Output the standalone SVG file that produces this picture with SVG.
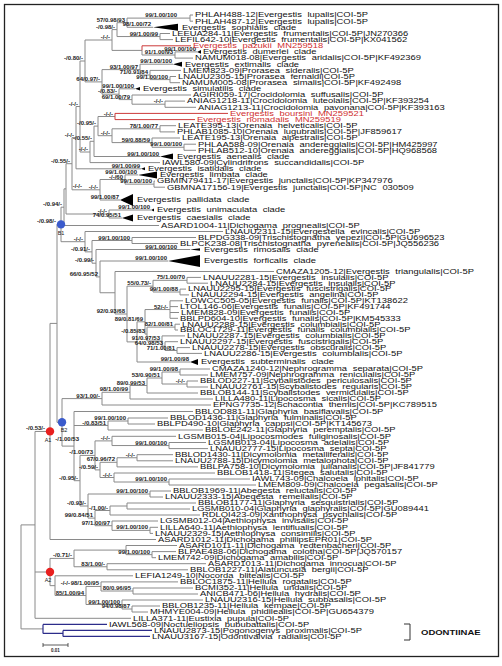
<svg xmlns="http://www.w3.org/2000/svg" width="502" height="666" viewBox="0 0 502 666">
<style>
.l{stroke:#8a8a8a;stroke-width:1;fill:none}
.rl{stroke:#cc3a3a;stroke-width:1;fill:none}
.bl{stroke:#2c2c8a;stroke-width:1.2;fill:none}
.t{font-family:"Liberation Sans",Arial,sans-serif;font-size:9.4px;fill:#111;word-spacing:3px}
.rt{fill:#d03030}
.s{font-family:"Liberation Sans",Arial,sans-serif;font-size:6px;font-weight:bold;fill:#222;text-anchor:end}
.c{font-family:"Liberation Sans",Arial,sans-serif;font-size:5.5px;fill:#222;text-anchor:middle}
.tri{fill:#000}
</style>
<rect x="4.5" y="4.5" width="494" height="652" fill="#fff" stroke="#222" stroke-width="1.3"/>
<g id="connectors">
<path class="l" d="M190,15V21.2M190,15H193M190,21.2H193
M127,18.1V27.3M127,18.1H190M127,27.3H153
M160,33.5V39.6M160,33.5H170M160,39.6H173
M117,22.7V36.55M117,22.7H127M117,36.55H160
M175,51.9V58.1M175,51.9H197M175,58.1H193
M142,50.4V55M142,55H175
M112,29.6V50.4M112,29.6H117M112,50.4H142
M170,76.5V82.7M170,76.5H176M170,82.7H180
M150,70.4V79.6M150,70.4H181M150,79.6H170
M140,64.2V75M140,64.2H173M140,75H150
M165,101.1V107.3M165,101.1H185M165,107.3H196
M132,95V104.2M132,95H191M132,104.2H165
M119,88.8V99.6M119,88.8H135M119,99.6H132
M102,69.6V94.2M102,69.6H140M102,94.2H119
M85,40V81.9M85,40H112M85,81.9H102
M160,125.7V131.9M160,125.7H176M160,131.9H175
M184,144.2V150.3M184,144.2H196M184,150.3H196
M152,138V147.25M152,138H180M152,147.25H184
M112,128.8V142.6M112,128.8H160M112,142.6H152
M98,116.5V135.7M98,116.5H115M98,135.7H112
M94,126.1V156.5M94,126.1H98M94,156.5H160
M90,141.3V162.6M90,141.3H94M90,162.6H160
M80,61V152M80,61H85M80,152H90
M76,106.5V168.8M76,106.5H80M76,168.8H141
M154,181.1V187.2M154,181.1H155M154,187.2H165
M125,174.9V184.15M125,174.9H138M125,184.15H154
M100,179.5V200M100,179.5H125M100,200H120
M109,210V218M109,210H151M109,218H122
M72,137.65V189.8M72,137.65H76M72,189.8H100
M66,163.7V214M66,163.7H72M66,214H109
M64,188.85V225.5M64,188.85H66M64,225.5H159
M132,237.5V243.5M132,237.5H196M132,243.5H178
M92,240.5V263.2M92,240.5H132M92,263.2H96
M85,231.5V251.85M85,231.5H223M85,251.85H92
M61,207.2V241.7M61,207.2H64M61,241.7H85
M187,277.4V283.2M187,277.4H201M187,283.2H208
M180,289.1V294.9M180,289.1H186M180,294.9H189
M153,280.3V292M153,280.3H187M153,292H180
M170,300.8V318.3M170,300.8H183M170,306.6H178M170,312.5H179M170,318.3H178
M175,324.2V330M175,324.2H180M175,330H178
M177,347.6V353.4M177,347.6H190M177,353.4H202
M165,341.7V350.5M165,341.7H178M165,350.5H177
M162,335.9V346.1M162,335.9H185M162,346.1H165
M147,327.1V341M147,327.1H175M147,341H162
M145,309.55V334.05M145,309.55H170M145,334.05H147
M137,321.8V362M137,321.8H145M137,362H190
M127,286.15V341.9M127,286.15H153M127,341.9H137
M115,271.5V314M115,271.5H274M115,314H127
M100,261V292.75M100,261H168M100,292.75H115
M96,249.5V276.9M96,249.5H190M96,276.9H100
M180,369V375M180,369H210M180,375H208
M187,381V387M187,381H198M187,387H208
M162,372V384M162,372H180M162,384H187
M147,378V393M147,378H162M147,393H198
M130,385.5V399M130,385.5H147M130,399H213
M102,392.25V405M102,392.25H130M102,405H211
M128,418V424M128,418H168M128,424H155
M108,421V430M108,421H128M108,430H203
M169,442.5V448.6M169,442.5H206M169,448.6H208
M112,436.3V445.55M112,436.3H176M112,445.55H169
M137,454.7V460.8M137,454.7H173M137,460.8H173
M117,457.75V466.9M117,457.75H137M117,466.9H198
M169,479V485M169,479H250M169,485H256
M114,473V482M114,473H215M114,482H169
M100,462.3V477.5M100,462.3H117M100,477.5H114
M95,440.9V469.9M95,440.9H112M95,469.9H100
M150,491V497M150,491H171M150,497H163
M127,503V509M127,503H196M127,509H190
M110,506V515M110,506H127M110,515H200
M150,527.3V533.4M150,527.3H158M150,533.4H153
M112,521V530.35M112,521H158M112,530.35H150
M95,510.5V525.7M95,510.5H110M95,525.7H112
M88,494V518.1M88,494H150M88,518.1H95
M80,455.4V506M80,455.4H95M80,506H88
M74,411.5V480.7M74,411.5H193M74,425.5H108M74,480.7H80
M62,398.6V446.1M62,398.6H102M62,446.1H74
M57,224.45V422.35M57,224.45H61M57,422.35H62
M50,323.4V539.5M50,323.4H57M50,539.5H156
M152,551.6V557.7M152,551.6H176M152,557.7H156
M126,545.5V554.65M126,545.5H177M126,554.65H152
M107,563.7V569.8M107,563.7H206M107,569.8H188
M74,550.08V566.75M74,550.08H126M74,566.75H107
M133,588V594M133,588H193M133,594H198
M101,581.9V591M101,581.9H178M101,591H133
M132,606V612M132,606H160M132,612H148
M122,600V609M122,600H203M122,609H132
M86,586.45V604.5M86,586.45H101M86,604.5H122
M55,575.8V595.5M55,575.8H133M55,595.5H86
M50,558.4V585.65M50,558.4H74M50,585.65H55
M35,431.45V618.3M35,431.45H50M35,572H50M35,618.3H131
M21,524.9V628.9M21,524.9H35M21,628.9H43"/>
<path class="rl" d="M142,45.8V50.4M142,45.8H191M115,113.4V119.6M115,113.4H228M115,119.6H195"/>
<path class="bl" d="M43,624.4V633.4M43,624.4H107M43,633.4H63M63,630.4V636.4M63,630.4H152M63,636.4H150"/>
</g>
<g id="support-labels">
<text class="s" transform="translate(177,17.1) scale(1,0.8)">99/1.00/100</text>
<text class="s" transform="translate(125,21.7) scale(1,0.8)">57/0.98/93</text>
<text class="s" transform="translate(151,26.3) scale(1,0.8)">98/1.00/72</text>
<text class="s" transform="translate(158,35.5) scale(1,0.8)">99/1.00/99</text>
<text class="s" transform="translate(115,28.6) scale(1,0.8)">-/0.98/-</text>
<text class="s" transform="translate(110,39) scale(1,0.8)">-/-/-</text>
<text class="s" transform="translate(173,54.2) scale(1,0.8)">91/1.00/93</text>
<text class="s" transform="translate(196,50.6) scale(1,0.8)">99/1.00/100</text>
<text class="s" transform="translate(83,60) scale(1,0.8)">-/0.80/-</text>
<text class="s" transform="translate(138,68.6) scale(1,0.8)">93/1.00/97</text>
<text class="s" transform="translate(172,63.2) scale(1,0.8)">99/1.00/100</text>
<text class="s" transform="translate(148,74) scale(1,0.8)">71/0.91/84</text>
<text class="s" transform="translate(168,78.6) scale(1,0.8)">99/1.00/100</text>
<text class="s" transform="translate(117,93.2) scale(1,0.8)">-/0.83/-</text>
<text class="s" transform="translate(134,87.8) scale(1,0.8)">99/1.00/100</text>
<text class="s" transform="translate(130,98.6) scale(1,0.8)">69/1.00/79</text>
<text class="s" transform="translate(100,80.9) scale(1,0.8)">64/0.97/-</text>
<text class="s" transform="translate(163,103.2) scale(1,0.8)">-/-/-</text>
<text class="s" transform="translate(113,115.5) scale(1,0.8)">-/-/-</text>
<text class="s" transform="translate(158,127.8) scale(1,0.8)">78/1.00/77</text>
<text class="s" transform="translate(182,146.2) scale(1,0.8)">99/1.00/100</text>
<text class="s" transform="translate(150,141.6) scale(1,0.8)">59/0.88/59</text>
<text class="s" transform="translate(110,134.7) scale(1,0.8)">-/-/-</text>
<text class="s" transform="translate(96,125.1) scale(1,0.8)">-/0.95/-</text>
<text class="s" transform="translate(92,140.3) scale(1,0.8)">-/0.55/-</text>
<text class="s" transform="translate(159,155.5) scale(1,0.8)">99/1.00/100</text>
<text class="s" transform="translate(88,151) scale(1,0.8)">-/-/-</text>
<text class="s" transform="translate(78,105.5) scale(1,0.8)">-/-/-</text>
<text class="s" transform="translate(74,136.6) scale(1,0.8)">-/-/-</text>
<text class="s" transform="translate(70,162.7) scale(1,0.8)">-/0.55/-</text>
<text class="s" transform="translate(140,167.8) scale(1,0.8)">99/1.00/99</text>
<text class="s" transform="translate(137,173.9) scale(1,0.8)">99/1.00/100</text>
<text class="s" transform="translate(152,183.1) scale(1,0.8)">99/1.00/100</text>
<text class="s" transform="translate(123,178.5) scale(1,0.8)">-/-/60</text>
<text class="s" transform="translate(98,188.8) scale(1,0.8)">-/-/-</text>
<text class="s" transform="translate(119,199) scale(1,0.8)">99/1.00/87</text>
<text class="s" transform="translate(150,209) scale(1,0.8)">99/1.00/100</text>
<text class="s" transform="translate(121,217) scale(1,0.8)">74/0.95/51</text>
<text class="s" transform="translate(107,213) scale(1,0.8)">-/-/-</text>
<text class="s" transform="translate(82,187.8) scale(1,0.8)">-/-/-</text>
<text class="s" transform="translate(62,206.2) scale(1,0.8)">-/0.94/-</text>
<text class="s" transform="translate(56,223.4) scale(1,0.8)">-/0.98/-</text>
<text class="s" transform="translate(130,239.5) scale(1,0.8)">99/1.00/100</text>
<text class="s" transform="translate(83,240.7) scale(1,0.8)">-/-/-</text>
<text class="s" transform="translate(177,248.6) scale(1,0.8)">99/1.00/100</text>
<text class="s" transform="translate(167,260) scale(1,0.8)">99/1.00/100</text>
<text class="s" transform="translate(90,250.8) scale(1,0.8)">-/0.91/-</text>
<text class="s" transform="translate(94,262.2) scale(1,0.8)">-/0.99/-</text>
<text class="s" transform="translate(98,275.9) scale(1,0.8)">66/0.95/52</text>
<text class="s" transform="translate(185,279.3) scale(1,0.8)">75/1.00/70</text>
<text class="s" transform="translate(178,291) scale(1,0.8)">99/1.00/88</text>
<text class="s" transform="translate(151,285.1) scale(1,0.8)">55/0.73/-</text>
<text class="s" transform="translate(125,313) scale(1,0.8)">92/0.93/68</text>
<text class="s" transform="translate(168,308.5) scale(1,0.8)">52/-/-</text>
<text class="s" transform="translate(143,320.8) scale(1,0.8)">89/0.81/69</text>
<text class="s" transform="translate(173,326.1) scale(1,0.8)">82/1.00/81</text>
<text class="s" transform="translate(145,333) scale(1,0.8)">-/0.85/83</text>
<text class="s" transform="translate(160,340) scale(1,0.8)">91/0.97/53</text>
<text class="s" transform="translate(175,349.5) scale(1,0.8)">71/1.00/81</text>
<text class="s" transform="translate(163,345.1) scale(1,0.8)">64/0.98/53</text>
<text class="s" transform="translate(189,361) scale(1,0.8)">99/1.00/98</text>
<text class="s" transform="translate(178,371) scale(1,0.8)">99/1.00/98</text>
<text class="s" transform="translate(185,383) scale(1,0.8)">-/-/-</text>
<text class="s" transform="translate(160,377) scale(1,0.8)">53/0.90/51</text>
<text class="s" transform="translate(145,384.5) scale(1,0.8)">89/0.99/53</text>
<text class="s" transform="translate(128,391.2) scale(1,0.8)">98/1.00/99</text>
<text class="s" transform="translate(100,397.6) scale(1,0.8)">93/1.00/-</text>
<text class="s" transform="translate(126,420) scale(1,0.8)">99/1.00/100</text>
<text class="s" transform="translate(106,424.5) scale(1,0.8)">-/0.83/51</text>
<text class="s" transform="translate(167,444.5) scale(1,0.8)">99/1.00/100</text>
<text class="s" transform="translate(110,439.9) scale(1,0.8)">-/-/-</text>
<text class="s" transform="translate(135,456.7) scale(1,0.8)">-/-/-</text>
<text class="s" transform="translate(115,461.3) scale(1,0.8)">67/0.96/72</text>
<text class="s" transform="translate(98,468.9) scale(1,0.8)">-/0.59/-</text>
<text class="s" transform="translate(112,476.5) scale(1,0.8)">-/-/-</text>
<text class="s" transform="translate(167,481) scale(1,0.8)">99/1.00/100</text>
<text class="s" transform="translate(93,454.4) scale(1,0.8)">-/1.00/73</text>
<text class="s" transform="translate(148,493) scale(1,0.8)">99/1.00/100</text>
<text class="s" transform="translate(108,509.5) scale(1,0.8)">-/1.00/-</text>
<text class="s" transform="translate(93,517.1) scale(1,0.8)">99/0.84/51</text>
<text class="s" transform="translate(86,505) scale(1,0.8)">-/0.93/-</text>
<text class="s" transform="translate(110,524.7) scale(1,0.8)">97/1.00/97</text>
<text class="s" transform="translate(148,529.3) scale(1,0.8)">99/1.00/100</text>
<text class="s" transform="translate(78,479.7) scale(1,0.8)">-/0.95/-</text>
<text class="s" transform="translate(79,441.3) scale(1,0.8)">-/1.00/53</text>
<text class="s" transform="translate(45,430.4) scale(1,0.8)">-/0.53/-</text>
<text class="s" transform="translate(150,553.6) scale(1,0.8)">99/1.00/100</text>
<text class="s" transform="translate(72,557.4) scale(1,0.8)">-/0.71/-</text>
<text class="s" transform="translate(105,565.7) scale(1,0.8)">83/1.00/-</text>
<text class="s" transform="translate(70,584.6) scale(1,0.8)">-/-/-</text>
<text class="s" transform="translate(99,585.4) scale(1,0.8)">98/1.00/95</text>
<text class="s" transform="translate(131,590) scale(1,0.8)">80/0.96/95</text>
<text class="s" transform="translate(84,594.5) scale(1,0.8)">85/1.00/94</text>
<text class="s" transform="translate(120,603.5) scale(1,0.8)">99/1.00/100</text>
<text class="s" transform="translate(130,608) scale(1,0.8)">94/0.98/87</text>
</g>
<g id="clade-markers">
<circle cx="61" cy="224.4" r="4.2" fill="#3b5bcc"/><text class="c" x="61" y="234.5">B1</text>
<circle cx="62" cy="422.3" r="4.2" fill="#3b5bcc"/><text class="c" x="64" y="432">B2</text>
<circle cx="50" cy="431.4" r="4.2" fill="#e8201f"/><text class="c" x="48" y="441.6">A1</text>
<circle cx="50" cy="572" r="4.2" fill="#e8201f"/><text class="c" x="48" y="582.3">A2</text>
</g>
<g id="leaves">
<g id="n1"><text class="t" transform="translate(195,17.3) scale(1,0.7)">PHLAH488-12|Evergestis lupalis|COI-5P</text></g>
<g id="n2"><text class="t" transform="translate(195,23.5) scale(1,0.7)">PHLAH487-12|Evergestis lupalis|COI-5P</text></g>
<g id="n3"><polygon class="tri" points="153,27.3 178,23.8 178,30.8"/><text class="t" transform="translate(182,29.6) scale(1,0.7)">Evergestis sophialis clade</text></g>
<g id="n4"><text class="t" transform="translate(172,35.8) scale(1,0.7)">LEEUA284-11|Evergestis frumentalis|COI-5P|JN270366</text></g>
<g id="n5"><text class="t" transform="translate(175,41.9) scale(1,0.7)">LEFIL642-10|Evergestis frumentalis|COI-5P|KX041562</text></g>
<g id="n6"><text class="t rt" transform="translate(193,48.1) scale(1,0.7)">Evergestis pazukii MN259518</text></g>
<g id="n7"><polygon class="tri" points="197,51.9 201,50 201,53.8"/><text class="t" transform="translate(203,54.2) scale(1,0.7)">Evergestis dumerlei clade</text></g>
<g id="n8"><text class="t" transform="translate(195,60.4) scale(1,0.7)">NAMUM018-08|Evergestis aridalis|COI-5P|KF492369</text></g>
<g id="n9"><polygon class="tri" points="173,64.2 182,61.7 182,66.7"/><text class="t" transform="translate(185,66.5) scale(1,0.7)">Evergestis extimalis clade</text></g>
<g id="n10"><text class="t" transform="translate(183,72.7) scale(1,0.7)">LMEM823-09|Prorasea sideralis|COI-5P</text></g>
<g id="n11"><text class="t" transform="translate(178,78.8) scale(1,0.7)">LNAUU2305-15|Prorasea fernaldi|COI-5P</text></g>
<g id="n12"><text class="t" transform="translate(182,85) scale(1,0.7)">NAMUM005-08|Prorasea simalis|COI-5P|KF492498</text></g>
<g id="n13"><polygon class="tri" points="135,88.8 140,87 140,90.6"/><text class="t" transform="translate(143,91.1) scale(1,0.7)">Evergestis simulatilis clade</text></g>
<g id="n14"><text class="t" transform="translate(193,97.3) scale(1,0.7)">AGIRI059-17|Crocidolomia suffusalis|COI-5P</text></g>
<g id="n15"><text class="t" transform="translate(187,103.4) scale(1,0.7)">ANIAG1218-11|Crocidolomia luteolalis|COI-5P|KF393254</text></g>
<g id="n16"><text class="t" transform="translate(198,109.6) scale(1,0.7)">ANIAG1213-11|Crocidolomia pavonana|COI-5P|KF393163</text></g>
<g id="n17"><text class="t rt" transform="translate(230,115.7) scale(1,0.7)">Evergestis boursini MN259521</text></g>
<g id="n18"><text class="t rt" transform="translate(197,121.9) scale(1,0.7)">Evergestis nomadalis MN259519</text></g>
<g id="n19"><text class="t" transform="translate(178,128) scale(1,0.7)">LEATE395-13|Orenaia helveticalis|COI-5P</text></g>
<g id="n20"><text class="t" transform="translate(177,134.2) scale(1,0.7)">PHLAB1085-10|Orenaia lugubralis|COI-5P|JF859617</text></g>
<g id="n21"><text class="t" transform="translate(182,140.3) scale(1,0.7)">LEATE195-13|Orenaia alpestralis|COI-5P</text></g>
<g id="n22"><text class="t" transform="translate(198,146.5) scale(1,0.7)">PHLAA588-09|Orenaia andereggialis|COI-5P|HM425997</text></g>
<g id="n23"><text class="t" transform="translate(198,152.6) scale(1,0.7)">PHLAB512-10|Orenaia andereggialis|COI-5P|HQ968568</text></g>
<g id="n24"><polygon class="tri" points="160,156.5 173,153.5 173,159.5"/><text class="t" transform="translate(177,158.8) scale(1,0.7)">Evergestis aenealis clade</text></g>
<g id="n25"><text class="t" transform="translate(162,164.9) scale(1,0.7)">IAWL580-09|Cylindrifrons succandidalis|COI-5P</text></g>
<g id="n26"><polygon class="tri" points="141,168.8 145,167.3 145,170.3"/><text class="t" transform="translate(148,171.1) scale(1,0.7)">Evergestis isatidalis clade</text></g>
<g id="n27"><polygon class="tri" points="138,174.9 157,171.4 157,178.4"/><text class="t" transform="translate(160,177.2) scale(1,0.7)">Evergestis limbata clade</text></g>
<g id="n28"><text class="t" transform="translate(157,183.4) scale(1,0.7)">GBMIN79411-17|Evergestis junctalis|COI-5P|KP347976</text></g>
<g id="n29"><text class="t" transform="translate(167,189.5) scale(1,0.7)">GBMNA17156-19|Evergestis junctalis|COI-5P|NC 030509</text></g>
<g id="n30"><polygon class="tri" points="120,200 133,194 133,206"/><text class="t" transform="translate(137,202.3) scale(1,0.7)">Evergestis pallidata clade</text></g>
<g id="n31"><polygon class="tri" points="151,210 154,208.5 154,211.5"/><text class="t" transform="translate(157,212.3) scale(1,0.7)">Evergestis unimaculata clade</text></g>
<g id="n32"><polygon class="tri" points="122,218 133,214.5 133,221.5"/><text class="t" transform="translate(137,220.3) scale(1,0.7)">Evergestis caesialis clade</text></g>
<g id="n33"><text class="t" transform="translate(161,227.8) scale(1,0.7)">ASARD1004-11|Dichogama prognealis|COI-5P</text></g>
<g id="n34"><text class="t" transform="translate(225,233.8) scale(1,0.7)">LNAUU2311-15|Evergestella evincalis|COI-5P</text></g>
<g id="n35"><text class="t" transform="translate(198,239.8) scale(1,0.7)">BLPDG338-09|Trischistognatha yepezi|COI-5P|GU696523</text></g>
<g id="n36"><text class="t" transform="translate(180,245.8) scale(1,0.7)">BLPCK238-08|Trischistognatha pyrenealis|COI-5P|JQ556236</text></g>
<g id="n37"><polygon class="tri" points="190,249.5 200,248.3 200,250.7"/><text class="t" transform="translate(204,251.8) scale(1,0.7)">Evergestis rimosalis clade</text></g>
<g id="n38"><polygon class="tri" points="168,261 200,255 200,267"/><text class="t" transform="translate(204,263.3) scale(1,0.7)">Evergestis forficalis clade</text></g>
<g id="n39"><text class="t" transform="translate(276,273.8) scale(1,0.7)">CMAZA1205-12|Evergestis triangulalis|COI-5P</text></g>
<g id="n40"><text class="t" transform="translate(203,279.7) scale(1,0.7)">LNAUU2281-15|Evergestis insulalis|COI-5P</text></g>
<g id="n41"><text class="t" transform="translate(210,285.5) scale(1,0.7)">LNAUU2284-15|Evergestis insulalis|COI-5P</text></g>
<g id="n42"><text class="t" transform="translate(188,291.4) scale(1,0.7)">LNAUU2295-15|Evergestis fuscistrigalis|COI-5P</text></g>
<g id="n43"><text class="t" transform="translate(191,297.2) scale(1,0.7)">LNAUU2294-15|Evergestis angelina|COI-5P</text></g>
<g id="n44"><text class="t" transform="translate(185,303.1) scale(1,0.7)">LOWCC505-05|Evergestis funalis|COI-5P|KT138622</text></g>
<g id="n45"><text class="t" transform="translate(180,308.9) scale(1,0.7)">LTOL146-06|Evergestis funalis|COI-5P|KF491744</text></g>
<g id="n46"><text class="t" transform="translate(181,314.8) scale(1,0.7)">LMEM828-09|Evergestis funalis|COI-5P</text></g>
<g id="n47"><text class="t" transform="translate(180,320.6) scale(1,0.7)">BBLPD604-10|Evergestis funalis|COI-5P|KM545333</text></g>
<g id="n48"><text class="t" transform="translate(182,326.5) scale(1,0.7)">LNAUU2288-15|Evergestis columbialis|COI-5P</text></g>
<g id="n49"><text class="t" transform="translate(180,332.3) scale(1,0.7)">BBLOC1729-11|Evergestis funalis columbialis|COI-5P</text></g>
<g id="n50"><text class="t" transform="translate(187,338.2) scale(1,0.7)">LNAUU2287-15|Evergestis columbialis|COI-5P</text></g>
<g id="n51"><text class="t" transform="translate(180,344) scale(1,0.7)">LNAUU2297-15|Evergestis fuscistrigalis|COI-5P</text></g>
<g id="n52"><text class="t" transform="translate(192,349.9) scale(1,0.7)">LNAUU2278-15|Evergestis obscuralis|COI-5P</text></g>
<g id="n53"><text class="t" transform="translate(204,355.7) scale(1,0.7)">LNAUU2286-15|Evergestis columbialis|COI-5P</text></g>
<g id="n54"><polygon class="tri" points="190,362 198,359 198,365"/><text class="t" transform="translate(201,364.3) scale(1,0.7)">Evergestis subterminalis clade</text></g>
<g id="n55"><text class="t" transform="translate(212,371.3) scale(1,0.7)">CMAZA1240-12|Nephrogramma separata|COI-5P</text></g>
<g id="n56"><text class="t" transform="translate(210,377.3) scale(1,0.7)">LMEM757-09|Nephrogramma reniculalis|COI-5P</text></g>
<g id="n57"><text class="t" transform="translate(200,383.3) scale(1,0.7)">BBLOD227-11|Scybalistodes periculosalis|COI-5P</text></g>
<g id="n58"><text class="t" transform="translate(210,389.3) scale(1,0.7)">LNAUU2761-15|Scybalistodes regularis|COI-5P</text></g>
<g id="n59"><text class="t" transform="translate(200,395.3) scale(1,0.7)">BBLOB144-11|Scybalistodes vermiculalis|COI-5P</text></g>
<g id="n60"><text class="t" transform="translate(215,401.3) scale(1,0.7)">LILLA480-11|Lipocosma sicalis|COI-5P</text></g>
<g id="n61"><text class="t" transform="translate(213,407.3) scale(1,0.7)">EPNG7735-12|Schacontia themis|COI-5P|KC789515</text></g>
<g id="n62"><text class="t" transform="translate(195,413.8) scale(1,0.7)">BBLOD881-11|Glaphyria basiflavalis|COI-5P</text></g>
<g id="n63"><text class="t" transform="translate(170,420.3) scale(1,0.7)">BBLOD1436-11|Glaphyria fulminalis|COI-5P</text></g>
<g id="n64"><text class="t" transform="translate(157,426.3) scale(1,0.7)">BBLPD490-10|Glaphyria cappsi|COI-5P|KT145673</text></g>
<g id="n65"><text class="t" transform="translate(205,432.3) scale(1,0.7)">BBLOE242-11|Glaphyria peremptalis|COI-5P</text></g>
<g id="n66"><text class="t" transform="translate(178,438.6) scale(1,0.7)">LGSMB015-04|Lipocosmodes fuliginosalis|COI-5P</text></g>
<g id="n67"><text class="t" transform="translate(208,444.8) scale(1,0.7)">LGSMB013-04|Lipocosma adelalis|COI-5P</text></g>
<g id="n68"><text class="t" transform="translate(210,450.9) scale(1,0.7)">LNAUU2777-15|Lipocosma septa|COI-5P</text></g>
<g id="n69"><text class="t" transform="translate(175,457) scale(1,0.7)">BBLOD1430-11|Dicymolomia metalliferalis|COI-5P</text></g>
<g id="n70"><text class="t" transform="translate(175,463.1) scale(1,0.7)">LNAUU2788-15|Dicymolomia metalophota|COI-5P</text></g>
<g id="n71"><text class="t" transform="translate(200,469.2) scale(1,0.7)">BBLPA758-10|Dicymolomia julianalis|COI-5P|JF841779</text></g>
<g id="n72"><text class="t" transform="translate(217,475.3) scale(1,0.7)">BBLOB1418-11|Stegea salutalis|COI-5P</text></g>
<g id="n73"><text class="t" transform="translate(252,481.3) scale(1,0.7)">IAWL743-09|Chalcoela iphitalis|COI-5P</text></g>
<g id="n74"><text class="t" transform="translate(258,487.3) scale(1,0.7)">LMEM809-09|Chalcoela pegasalis|COI-5P</text></g>
<g id="n75"><text class="t" transform="translate(173,493.3) scale(1,0.7)">BBLOB1969-11|Abegesta reluctalis|COI-5P</text></g>
<g id="n76"><text class="t" transform="translate(165,499.3) scale(1,0.7)">LNAUU2333-15|Abegesta remellalis|COI-5P</text></g>
<g id="n77"><text class="t" transform="translate(198,505.3) scale(1,0.7)">BBLOB1177-11|Glaphyria sesquistrialis|COI-5P</text></g>
<g id="n78"><text class="t" transform="translate(192,511.3) scale(1,0.7)">LGSMB010-04|Glaphyria glaphyralis|COI-5P|GU089441</text></g>
<g id="n79"><text class="t" transform="translate(202,517.3) scale(1,0.7)">RDLQI423-09|Xanthophysa psychialis|COI-5P</text></g>
<g id="n80"><text class="t" transform="translate(160,523.3) scale(1,0.7)">LGSMB012-04|Aethiophysa invisalis|COI-5P</text></g>
<g id="n81"><text class="t" transform="translate(160,529.6) scale(1,0.7)">LILLA640-11|Aethiophysa lentiflualis|COI-5P</text></g>
<g id="n82"><text class="t" transform="translate(155,535.7) scale(1,0.7)">LNAUU2329-15|Aethiophysa consimilis|COI-5P</text></g>
<g id="n83"><text class="t" transform="translate(158,541.8) scale(1,0.7)">ASARD1012-11|Dichogama phillipsEPR01|COI-5P</text></g>
<g id="n84"><text class="t" transform="translate(179,547.8) scale(1,0.7)">ASARD1011-11|Dichogama redtenbacheri|COI-5P</text></g>
<g id="n85"><text class="t" transform="translate(178,553.9) scale(1,0.7)">BLPAE488-06|Dichogama colotha|COI-5P|JQ570157</text></g>
<g id="n86"><text class="t" transform="translate(158,560) scale(1,0.7)">LMEM742-09|Dichogama amabilis|COI-5P</text></g>
<g id="n87"><text class="t" transform="translate(208,566) scale(1,0.7)">ASARD1013-11|Dichogama innocua|COI-5P</text></g>
<g id="n88"><text class="t" transform="translate(190,572.1) scale(1,0.7)">BBLOB1227-11|Alatuncusia bergii|COI-5P</text></g>
<g id="n89"><text class="t" transform="translate(135,578.1) scale(1,0.7)">LEFIA1249-10|Nocorda blitealis|COI-5P</text></g>
<g id="n90"><text class="t" transform="translate(180,584.2) scale(1,0.7)">BBLOC1875-11|Hellula rogatalis|COI-5P</text></g>
<g id="n91"><text class="t" transform="translate(195,590.3) scale(1,0.7)">BCMI352-11|Hellula undalis|COI-5P</text></g>
<g id="n92"><text class="t" transform="translate(200,596.3) scale(1,0.7)">ANICB471-06|Hellula hydralis|COI-5P</text></g>
<g id="n93"><text class="t" transform="translate(205,602.3) scale(1,0.7)">LNAUU2316-15|Hellula subbasalis|COI-5P</text></g>
<g id="n94"><text class="t" transform="translate(162,608.3) scale(1,0.7)">BBLOB1235-11|Hellula kempae|COI-5P</text></g>
<g id="n95"><text class="t" transform="translate(150,614.3) scale(1,0.7)">MHMYE004-09|Hellula phidilealis|COI-5P|GU654379</text></g>
<g id="n96"><text class="t" transform="translate(133,620.6) scale(1,0.7)">LILLA371-11|Eustixia pupula|COI-5P</text></g>
<g id="n97"><text class="t" transform="translate(109,626.7) scale(1,0.7)">IAWL568-09|Noctueliopsis bububattalis|COI-5P</text></g>
<g id="n98"><text class="t" transform="translate(154,632.7) scale(1,0.7)">LNAUU2873-15|Pogonogenys proximalis|COI-5P</text></g>
<g id="n99"><text class="t" transform="translate(152,638.7) scale(1,0.7)">LNAUU3167-15|Odontivalvia radialis|COI-5P</text></g>
</g>
<g id="odontiinae">
<path d="M404,624H410V640H404" fill="none" stroke="#333" stroke-width="1"/>
<text transform="translate(421,634.5) scale(1,0.8)" font-family="Liberation Sans,Arial,sans-serif" font-size="9.5" font-weight="bold" fill="#111">ODONTIINAE</text>
</g>
<g id="scale">
<path d="M43,645H68M43,643V647M68,643V647" fill="none" stroke="#333" stroke-width="0.8"/>
<text x="55.5" y="651.5" font-family="Liberation Sans,Arial,sans-serif" font-size="4.5" font-weight="bold" fill="#222" text-anchor="middle">0.01</text>
</g>
</svg>
